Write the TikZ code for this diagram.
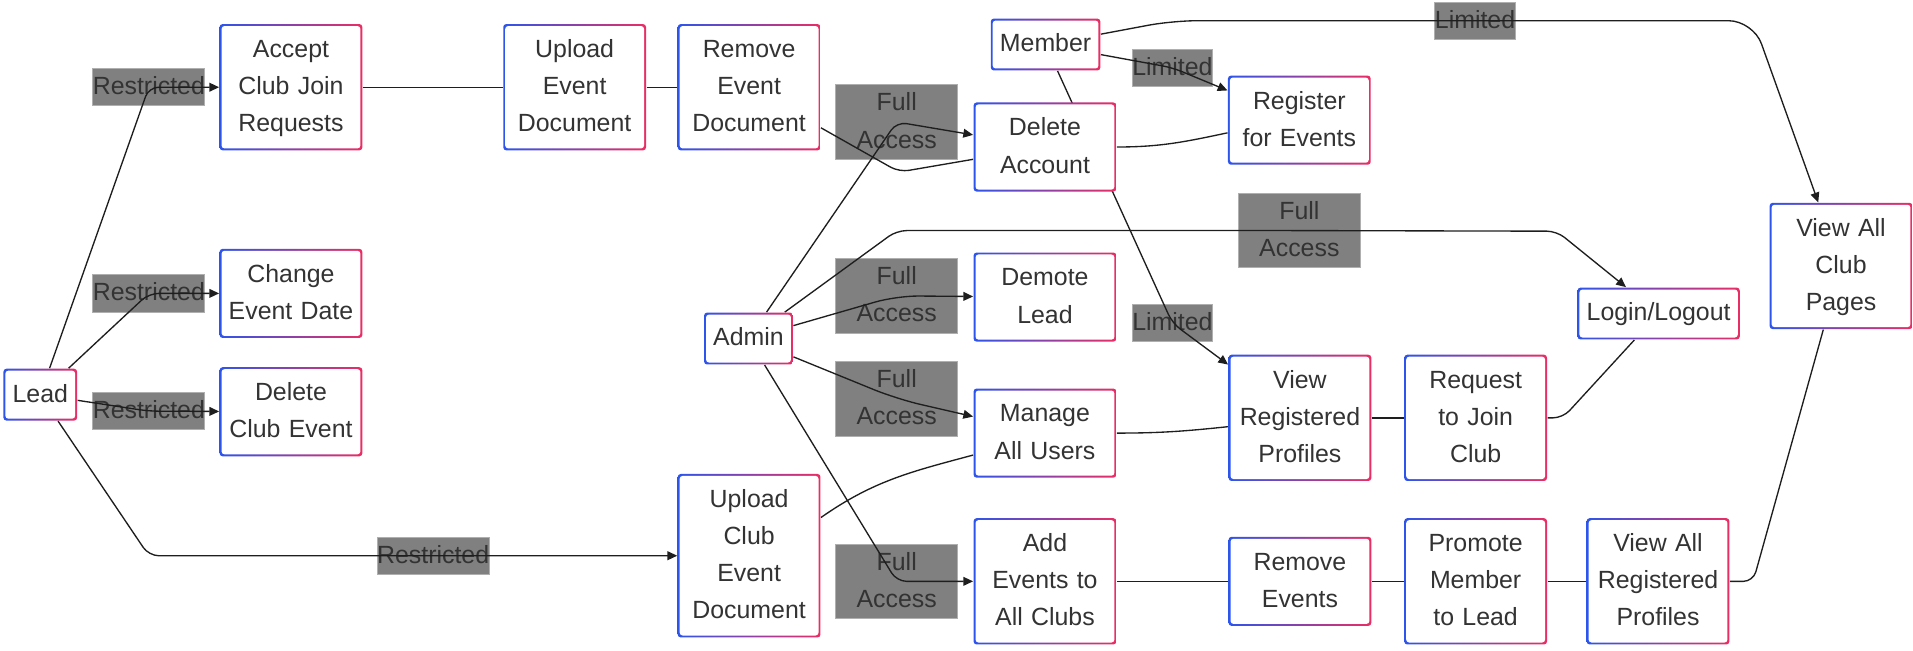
\documentclass[tikz,border=0pt]{standalone}
\usepackage{fontspec}
\setmainfont{Liberation Sans}
\usetikzlibrary{arrows.meta}
\definecolor{boxblue}{RGB}{45,85,235}
\definecolor{boxpink}{RGB}{235,45,100}
\definecolor{txtgray}{RGB}{51,51,51}
\definecolor{lblgray}{RGB}{128,128,128}
\definecolor{lblrim}{RGB}{175,175,175}
\definecolor{linegray}{RGB}{30,30,30}
\pgfdeclarelayer{labels}
\pgfdeclarelayer{edges}
\pgfsetlayers{labels,edges,main}
\tikzset{
  role/.style={rectangle, rounded corners=1.2pt, left color=boxblue, right color=boxpink,
    path picture={\fill[white] ([shift={(0.8pt,-0.8pt)}]path picture bounding box.north west) rectangle ([shift={(-0.8pt,0.8pt)}]path picture bounding box.south east);},
    font=\fontsize{10.2pt}{15.25pt}\selectfont, text=txtgray, align=center,
    inner xsep=3.75pt, inner ysep=3pt,
    execute at begin node=\strut, execute at end node=\strut},
  task/.style={role, text width=54pt, inner xsep=2.25pt},
  tag/.style={fill=lblgray, draw=lblrim, line width=0.4pt, inner xsep=0pt, inner ysep=0pt,
    font=\fontsize{10.2pt}{15.25pt}\selectfont, text=txtgray, align=center,
    execute at begin node=\strut, execute at end node=\strut},
  fulltag/.style={tag, text width=50pt},
  link/.style={draw=linegray, line width=0.55pt, rounded corners=4pt},
  arr/.style={link, -{Triangle[length=4pt,width=3.6pt]}}
}
\begin{document}
\begin{tikzpicture}[x=0.5pt, y=-0.5pt]
    \useasboundingbox (0,0) rectangle (1568,533);
    % Roles
    \node[role] (lead) at (33,323.5) {Lead};
    \node[role] (admin) at (613.5,277.5) {Admin};
    \node[role] (member) at (857,36.5) {Member};
    % Lead actions
    \node[task] (acc) at (238.5,71.5) {Accept\\Club Join\\Requests};
    \node[task] (chg) at (238.5,240.5) {Change\\Event Date};
    \node[task] (delce) at (238.5,337.5) {Delete\\Club Event};
    \node[task] (upev) at (471,71.5) {Upload\\Event\\Document};
    \node[task] (remev) at (614,71.5) {Remove\\Event\\Document};
    \node[task] (upclub) at (614,455.5) {Upload\\Club\\Event\\Document};
    % Admin actions
    \node[task] (delacc) at (856.5,120.5) {Delete\\Account};
    \node[task] (demote) at (856.5,243.5) {Demote\\Lead};
    \node[task] (manage) at (856.5,355) {Manage\\All Users};
    \node[task] (addev) at (856.5,476.5) {Add\\Events to\\All Clubs};
    % Member actions
    \node[task] (reg) at (1065,98.5) {Register\\for Events};
    \node[task] (viewreg) at (1065.5,342.5) {View\\Registered\\Profiles};
    \node[task] (req) at (1209.5,342.5) {Request\\to Join\\Club};
    \node[task] (remevs) at (1065.5,476.5) {Remove\\Events};
    \node[task] (promote) at (1209.5,476.5) {Promote\\Member\\to Lead};
    \node[task] (viewallreg) at (1359,476.5) {View All\\Registered\\Profiles};
    \node[role] (login) at (1359.5,257) {Login/Logout};
    \node[task] (vacp) at (1509,218) {View All\\Club\\Pages};
    % Bends
    \coordinate (kD) at (737,141);
    \coordinate (kL) at (1276,189.5);
    \coordinate (kM) at (1437,17);
    \coordinate (kV) at (1437,476.5);
    \coordinate (kR) at (1281,342.5);
    % Edge labels
    \begin{pgfonlayer}{labels}
    \node[tag] (rA) at (122,71.5) {Restricted};
    \node[tag] (rC) at (122,240.5) {Restricted};
    \node[tag] (rD) at (122,337) {Restricted};
    \node[tag] (rU) at (355,455.5) {Restricted};
    \node[fulltag] (fDA) at (735,100) {Full Access};
    \node[fulltag] (fLL) at (1065,189) {Full Access};
    \node[fulltag] (fDL) at (735,242.5) {Full Access};
    \node[fulltag] (fMU) at (735,327) {Full Access};
    \node[fulltag] (fAE) at (735,476.5) {Full Access};
    \node[tag] (lRE) at (961,55.5) {Limited};
    \node[tag] (lVC) at (1209,17) {Limited};
    \node[tag] (lVR) at (961,265) {Limited};
    \end{pgfonlayer}
    % Edges
    \begin{pgfonlayer}{edges}
    \draw[arr] (lead) -- (rA.center) -- (acc);
    \draw[arr] (lead) -- (rC.center) -- (chg);
    \draw[arr] (lead) -- (rD.center) -- (delce);
    \draw[arr] (lead) -- (rD.center |- rU.center) -- (rU.center) -- (upclub);
    \draw[link] (acc) -- (upev);
    \draw[link] (upev) -- (remev);
    \draw[link] (remev) -- (kD) -- (delacc);
    \draw[arr] (admin) -- (fDA.center) -- (delacc);
    \draw[arr] (admin) -- (fDA.center |- fLL.center) -- (fLL.center) -- (kL) -- (login);
    \draw[arr, rounded corners=9pt] (admin) -- (fDL.center) -- (demote);
    \draw[arr, rounded corners=10pt] (admin) -- (fMU.center) -- (manage);
    \draw[arr] (admin) -- (fAE.center) -- (addev);
    \draw[arr] (member) -- (lRE.center) -- (reg);
    \draw[arr, rounded corners=10pt] (member) -- (lRE.center |- lVC.center) -- (lVC.center) -- (kM) -- (vacp);
    \draw[arr] (member) -- (lVR.center) -- (viewreg);
    \draw[link] (delacc.east) to[out=0, in=192] (reg.190);
    \draw[link] (manage.east) to[out=0, in=186] (viewreg.187);
    \draw[link] (upclub.28) to[out=35, in=195] (manage.197);
    \draw[link] (viewreg) -- (req);
    \draw[link] (req) -- (kR) -- (login);
    \draw[link] (addev) -- (remevs);
    \draw[link] (remevs) -- (promote);
    \draw[link] (promote) -- (viewallreg);
    \draw[link] (viewallreg) -- (kV) -- (vacp);
    \end{pgfonlayer}
\end{tikzpicture}
\end{document}
